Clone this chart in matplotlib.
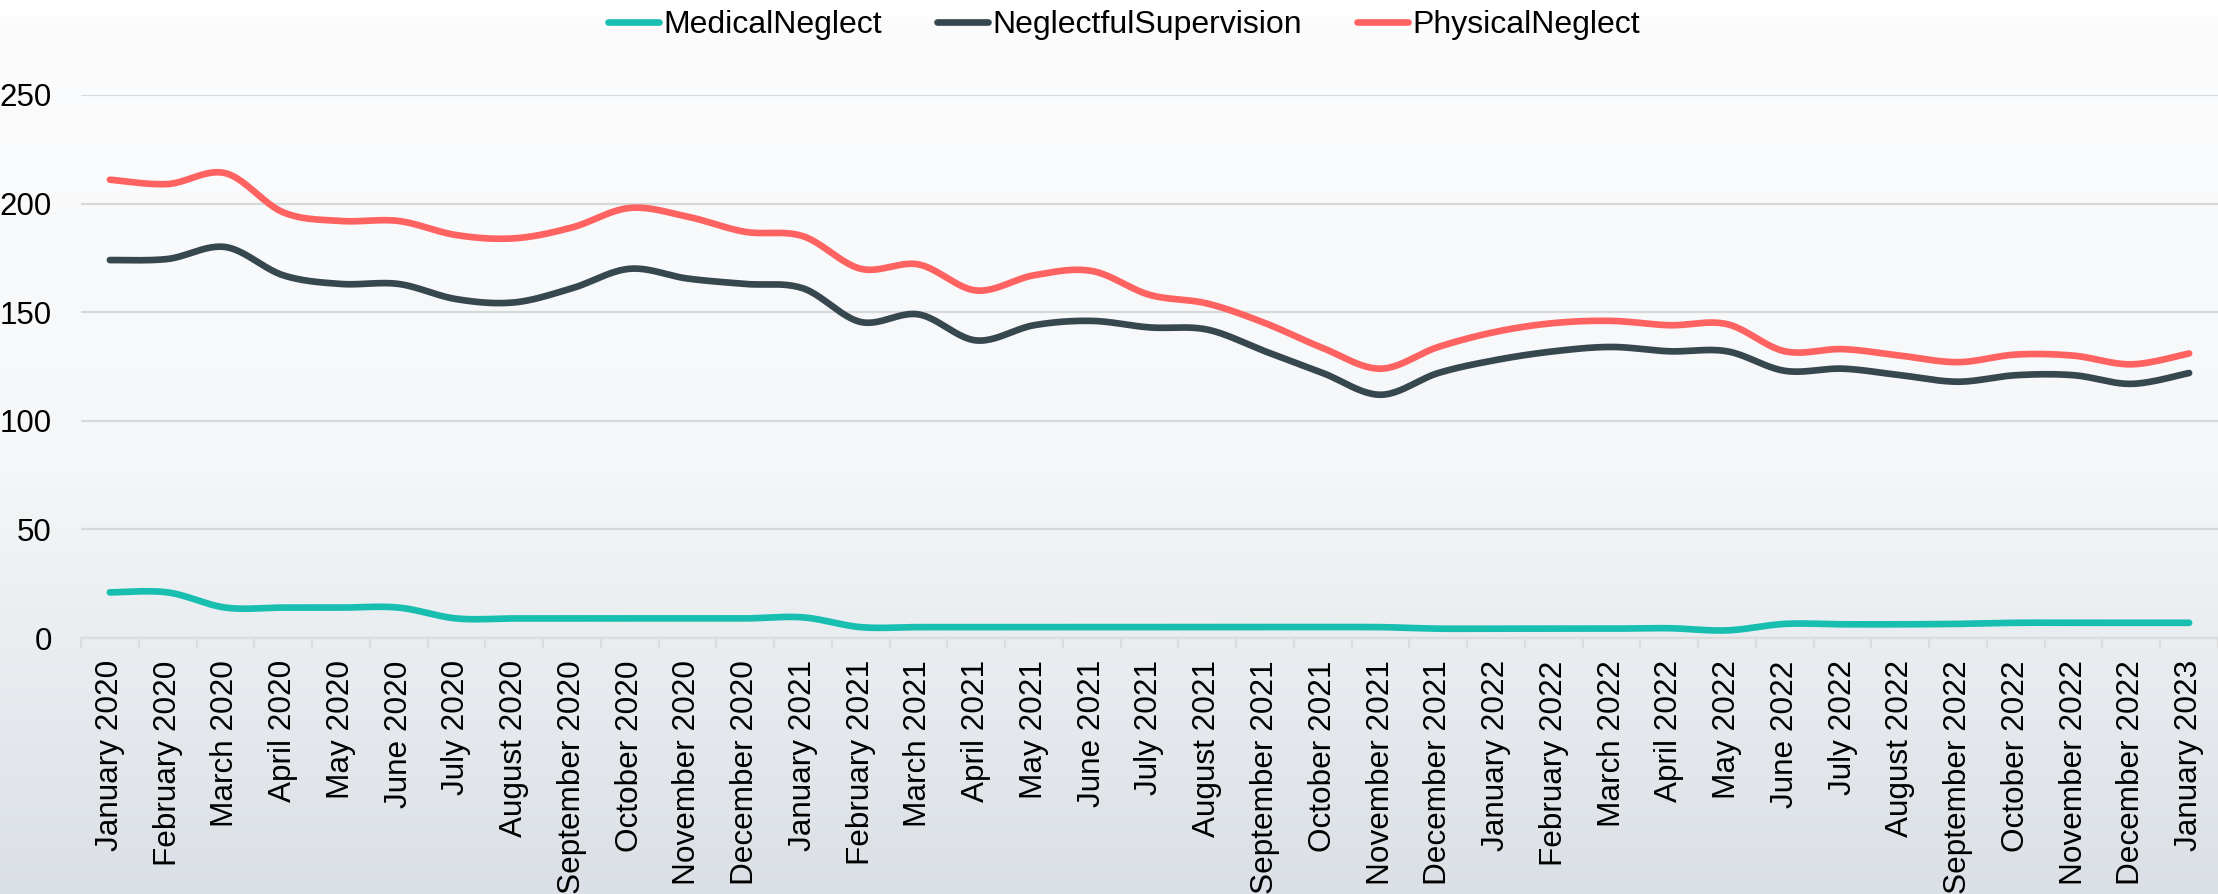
import numpy as np
import matplotlib
matplotlib.use("Agg")
import matplotlib.pyplot as plt
from matplotlib.colors import LinearSegmentedColormap

plt.rcParams['font.family'] = ['Liberation Sans', 'DejaVu Sans']

months = ["January 2020", "February 2020", "March 2020", "April 2020", "May 2020", "June 2020",
          "July 2020", "August 2020", "September 2020", "October 2020", "November 2020", "December 2020",
          "January 2021", "February 2021", "March 2021", "April 2021", "May 2021", "June 2021",
          "July 2021", "August 2021", "September 2021", "October 2021", "November 2021", "December 2021",
          "January 2022", "February 2022", "March 2022", "April 2022", "May 2022", "June 2022",
          "July 2022", "August 2022", "September 2022", "October 2022", "November 2022", "December 2022",
          "January 2023"]

medical = [21, 21, 14, 14, 14, 14, 9, 9, 9, 9, 9, 9, 9.5, 5, 5, 5, 5, 5,
           5, 5, 5, 5, 5, 4.3, 4.3, 4.3, 4.3, 4.5, 3.5, 6.5, 6.3, 6.3, 6.5, 7, 7, 7, 7]
supervision = [174, 174.5, 180, 167, 163, 163, 156, 154.5, 161, 170, 165.5, 163, 161, 145.5, 149, 137, 144, 146,
               143, 142, 132, 122, 112, 122, 128, 132, 134, 132, 132, 123, 124, 121, 118, 121, 121, 117, 122]
physical = [211, 209, 214, 196, 192, 192, 185.5, 184, 189, 198, 194, 187, 185, 170, 172, 160, 167, 169,
            158, 154, 145, 133.5, 124, 134, 141, 145, 146, 144, 144.5, 132, 133, 130, 127, 130.5, 130, 126, 131]

series = [("MedicalNeglect", medical, "#18BFB1"),
          ("NeglectfulSupervision", supervision, "#37474F"),
          ("PhysicalNeglect", physical, "#FF6361")]

yticks = [0, 50, 100, 150, 200, 250]


def catmull_rom(x, y, n=24):
    x = np.asarray(x, float)
    y = np.asarray(y, float)
    px = np.concatenate([[x[0]], x, [x[-1]]])
    py = np.concatenate([[y[0]], y, [y[-1]]])
    xs, ys = [], []
    t = np.linspace(0, 1, n, endpoint=False)
    for i in range(1, len(px) - 2):
        for P, out in ((px, xs), (py, ys)):
            p0, p1, p2, p3 = P[i - 1], P[i], P[i + 1], P[i + 2]
            v = 0.5 * ((2 * p1) + (-p0 + p2) * t + (2 * p0 - 5 * p1 + 4 * p2 - p3) * t ** 2
                       + (-p0 + 3 * p1 - 3 * p2 + p3) * t ** 3)
            out.extend(v)
    xs.append(x[-1])
    ys.append(y[-1])
    return np.array(xs), np.array(ys)


W, H = 2218, 894
fig = plt.figure(figsize=(W / 100, H / 100), dpi=100)

# background gradient
bg = fig.add_axes([0, 0, 1, 1 - 16 / H], zorder=-10)
cmap = LinearSegmentedColormap.from_list("bg", ["#fcfcfd", "#f5f7f8", "#dbe0e6"], N=256)
grad = np.linspace(0, 1, 256).reshape(-1, 1)
bg.imshow(grad, aspect='auto', cmap=cmap, extent=[0, 1, 0, 1], origin='upper')
bg.axis('off')

left = 81 / W
bottom = (H - 638) / H
height = (638 - 95) / H
ax = fig.add_axes([left, bottom, 1 - left, height])
ax.set_facecolor("none")

n = len(months)
xc = np.arange(n) + 0.5
for name, vals, col in series:
    sx, sy = catmull_rom(xc, vals)
    ax.plot(sx, sy, color=col, lw=4.8, solid_capstyle='round', solid_joinstyle='round',
            label=name, zorder=3)

ax.set_xlim(0, n)
ax.set_ylim(0, 250)

ax.set_yticks(yticks)
ax.set_yticklabels([str(v) for v in yticks])
ax.grid(axis='y', color="#d7d8da", lw=1.6, zorder=0)
ax.tick_params(axis='y', length=0, pad=21, labelsize=22.5, labelcolor='black')

ax.set_xticks(xc)
ax.set_xticklabels(months, rotation=90, ha='center', va='top')
ax.set_xticks(np.arange(n + 1), minor=True)
ax.tick_params(axis='x', which='major', length=0, pad=16, labelsize=22.7, labelcolor='black')
ax.tick_params(axis='x', which='minor', length=7.5, width=1.5, color="#dcdcdc")

for s in ['top', 'right', 'left']:
    ax.spines[s].set_visible(False)
ax.spines['bottom'].set_color("#dcdcdc")
ax.spines['bottom'].set_linewidth(1.6)
ax.set_axisbelow(True)

handles, labels = ax.get_legend_handles_labels()
fig.legend(handles, labels, loc='center', bbox_to_anchor=(1124 / W, 1 - 25 / H), ncol=3,
           frameon=False, fontsize=23, handlelength=1.6, handletextpad=0.15,
           columnspacing=1.7)

fig.savefig("out.png", dpi=100)
